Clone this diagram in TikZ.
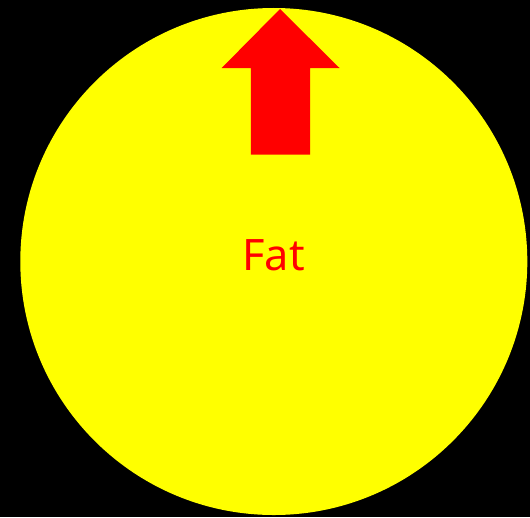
\documentclass[tikz,border=0pt]{standalone}
\usepackage{fontspec}
\setmainfont{Noto Sans}
\definecolor{fatyellow}{RGB}{255,255,0}
\definecolor{fatred}{RGB}{255,0,0}

\begin{document}
\begin{tikzpicture}[x=0.75pt, y=-0.75pt]
    % Background
    \fill[black] (0,0) rectangle (530,517);
    \useasboundingbox (0,0) rectangle (530,517);
    
    % Define the centre
    \coordinate (C) at (273.8,261.5);
    
    % Draw the disc
    \fill[fatyellow] (C) circle[radius=253.5*0.75pt];
    
    % Draw the arrow
    \fill[fatred] (280,9) -- (339.5,68) -- (310,68) -- (310,154.5)
        -- (250.8,154.5) -- (250.8,68) -- (221.7,68) -- cycle;
    
    % Add the label
    \node[text=fatred, font=\fontsize{32.5pt}{39pt}\selectfont, anchor=base]
        (fat) at (273.5,270.5) {Fat};
\end{tikzpicture}
\end{document}
